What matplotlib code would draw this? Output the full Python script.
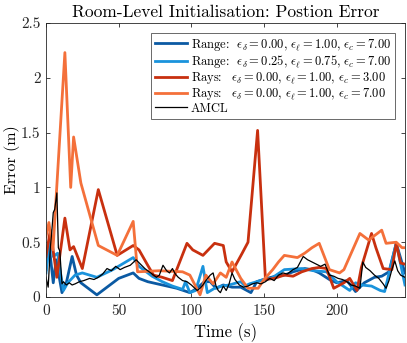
import matplotlib
matplotlib.use("Agg")
import matplotlib.pyplot as plt
from matplotlib.ticker import FuncFormatter

plt.rcParams['font.family'] = ['cmr10', 'DejaVu Serif']
plt.rcParams['mathtext.fontset'] = 'cm'
plt.rcParams['axes.formatter.use_mathtext'] = True

# ---------------- data ----------------
t_range1 = [0, 2, 5, 7, 11, 14, 18, 21, 24, 35, 50, 60, 64, 70, 80, 90, 99, 104, 109, 113,
            117, 122, 128, 134, 141, 145, 152, 158, 164, 170, 178, 183, 188, 195, 200, 207,
            213, 219, 226, 231, 236, 241, 247]
v_range1 = [0.25, 0.49, 0.13, 0.34, 0.04, 0.13, 0.37, 0.20, 0.13, 0.02, 0.17, 0.22, 0.17, 0.14,
            0.11, 0.08, 0.04, 0.08, 0.14, 0.14, 0.08, 0.11, 0.09, 0.09, 0.04, 0.14, 0.17, 0.19,
            0.20, 0.23, 0.26, 0.25, 0.22, 0.16, 0.13, 0.15, 0.05, 0.13, 0.18, 0.19, 0.23, 0.49, 0.22]

t_range2 = [0, 3, 5, 8, 10, 12, 15, 20, 25, 35, 46, 60, 64, 73, 80, 87, 94, 96, 99, 103, 108,
            111, 116, 121, 126, 134, 137, 140, 150, 155, 164, 176, 184, 193, 200, 209, 213, 217,
            224, 230, 233, 241, 247]
v_range2 = [0.22, 0.58, 0.37, 0.40, 0.22, 0.06, 0.13, 0.20, 0.22, 0.18, 0.25, 0.36, 0.28, 0.19,
            0.14, 0.10, 0.07, 0.14, 0.04, 0.06, 0.28, 0.04, 0.08, 0.10, 0.11, 0.14, 0.10, 0.12,
            0.16, 0.17, 0.25, 0.26, 0.24, 0.23, 0.14, 0.06, 0.13, 0.11, 0.10, 0.06, 0.05, 0.49, 0.11]

t_rays1 = [0, 3, 7.5, 13, 16.5, 19, 25, 36, 49, 60, 64, 70, 74, 80, 87, 97, 101, 108, 116, 122,
           124, 128, 135, 139, 145.6, 151, 157, 164, 170, 176, 183, 188, 193, 198, 205, 209, 214,
           217, 224, 227, 232, 238, 241, 244, 247]
v_rays1 = [0.37, 0.61, 0.18, 0.72, 0.43, 0.46, 0.26, 0.98, 0.38, 0.47, 0.43, 0.29, 0.20, 0.18,
           0.15, 0.49, 0.43, 0.38, 0.49, 0.47, 0.32, 0.23, 0.40, 0.50, 1.52, 0.16, 0.17, 0.20,
           0.19, 0.23, 0.26, 0.27, 0.26, 0.08, 0.13, 0.17, 0.06, 0.27, 0.58, 0.45, 0.26, 0.25,
           0.49, 0.31, 0.30]

t_rays2 = [0, 2, 4.8, 13, 17, 19, 24, 36, 49, 60, 63, 78, 94, 99, 106, 110, 115, 120, 124, 128,
           134, 139, 146, 150, 156, 160, 164, 173, 178, 183, 188, 195, 202, 205, 216, 222, 231,
           234, 241, 245, 247]
v_rays2 = [0.55, 0.68, 0.43, 2.23, 1.00, 1.46, 1.04, 0.47, 0.38, 0.69, 0.23, 0.24, 0.23, 0.20,
           0.02, 0.20, 0.12, 0.22, 0.18, 0.32, 0.17, 0.08, 0.08, 0.16, 0.25, 0.32, 0.38, 0.36,
           0.40, 0.45, 0.49, 0.25, 0.22, 0.25, 0.58, 0.52, 0.61, 0.49, 0.50, 0.45, 0.45]

t_amcl = [0, 1.5, 3, 4, 5, 6, 7.5, 8.5, 9.5, 11, 12, 14, 16, 18, 20, 23, 26, 30, 33, 36, 39, 42,
          45, 48, 51, 54, 58, 62, 65, 68, 72, 76, 78, 80.5, 83, 85, 87, 89, 91, 94, 97, 100, 104,
          106, 108, 110, 113, 115, 117, 118.5, 120, 122, 124, 126, 128, 130, 133, 136, 139, 142,
          145, 148, 151, 154, 157, 160, 163, 166, 170, 173, 175, 177, 180, 183, 186, 189, 192,
          195, 198, 201, 204, 207, 210, 213, 216, 218, 220, 223, 226, 229, 232, 234, 236, 238,
          240, 242, 244, 247]
v_amcl = [0.18, 0.09, 0.45, 0.60, 0.77, 0.80, 0.95, 0.45, 0.42, 0.12, 0.14, 0.11, 0.13, 0.11,
          0.12, 0.14, 0.15, 0.17, 0.16, 0.18, 0.21, 0.26, 0.24, 0.28, 0.25, 0.27, 0.29, 0.34,
          0.30, 0.26, 0.22, 0.18, 0.20, 0.29, 0.24, 0.22, 0.26, 0.21, 0.18, 0.15, 0.14, 0.11,
          0.06, 0.08, 0.11, 0.15, 0.20, 0.22, 0.10, 0.06, 0.04, 0.10, 0.06, 0.12, 0.22, 0.16,
          0.11, 0.09, 0.10, 0.12, 0.13, 0.12, 0.14, 0.17, 0.15, 0.20, 0.22, 0.21, 0.25, 0.27,
          0.32, 0.37, 0.34, 0.32, 0.30, 0.28, 0.30, 0.20, 0.19, 0.17, 0.16, 0.14, 0.11, 0.10,
          0.08, 0.32, 0.27, 0.24, 0.20, 0.17, 0.12, 0.08, 0.15, 0.25, 0.33, 0.24, 0.20, 0.18]

labels = [
    r'Range:  $\epsilon_\delta = 0.00,\, \epsilon_\ell = 1.00,\, \epsilon_c = 7.00$',
    r'Range:  $\epsilon_\delta = 0.25,\, \epsilon_\ell = 0.75,\, \epsilon_c = 7.00$',
    r'Rays:  $\,\epsilon_\delta = 0.00,\, \epsilon_\ell = 1.00,\, \epsilon_c = 3.00$',
    r'Rays:  $\,\epsilon_\delta = 0.00,\, \epsilon_\ell = 1.00,\, \epsilon_c = 7.00$',
    'AMCL',
]
colors = ['#0b5aa3', '#1a93dc', '#c8300f', '#f4703a', '#000000']

# ---------------- plot ----------------
fig = plt.figure(figsize=(4.07, 3.43), dpi=100)
ax = fig.add_axes([0.113, 0.134, 0.882, 0.799])

series = [(t_range1, v_range1), (t_range2, v_range2), (t_rays1, v_rays1),
          (t_rays2, v_rays2), (t_amcl, v_amcl)]
for (t, v), lab, c in zip(series, labels, colors):
    lw = 0.9 if lab == 'AMCL' else 2.0
    ax.plot(t, v, color=c, lw=lw, label=lab)

ax.set_xlim(0, 247)
ax.set_ylim(0, 2.5)
ax.set_xticks([0, 50, 100, 150, 200])
ax.set_yticks([0, 0.5, 1, 1.5, 2, 2.5])
fmt = FuncFormatter(lambda x, p: '%g' % x)
ax.xaxis.set_major_formatter(fmt)
ax.yaxis.set_major_formatter(fmt)
ax.tick_params(direction='in', top=True, right=True, labelsize=11, length=3,
               color='#262626', labelcolor='#262626', width=0.6, pad=4)
ax.tick_params(axis='x', pad=5)
for s in ax.spines.values():
    s.set_color('#262626')
    s.set_linewidth(0.6)

ax.set_xlabel('Time (s)', fontsize=12, labelpad=4)
ax.set_ylabel('Error (m)', fontsize=11.5, labelpad=1)
ax.set_title('Room-Level Initialisation: Postion Error', fontsize=12.5, pad=4)

leg = ax.legend(loc='upper right', fontsize=9, frameon=True, fancybox=False,
                edgecolor='#262626', handlelength=2.6, handletextpad=0.3,
                labelspacing=0.02, borderpad=0.3, borderaxespad=0.8)
leg.get_frame().set_linewidth(0.6)

fig.savefig('out.png', dpi=100)
